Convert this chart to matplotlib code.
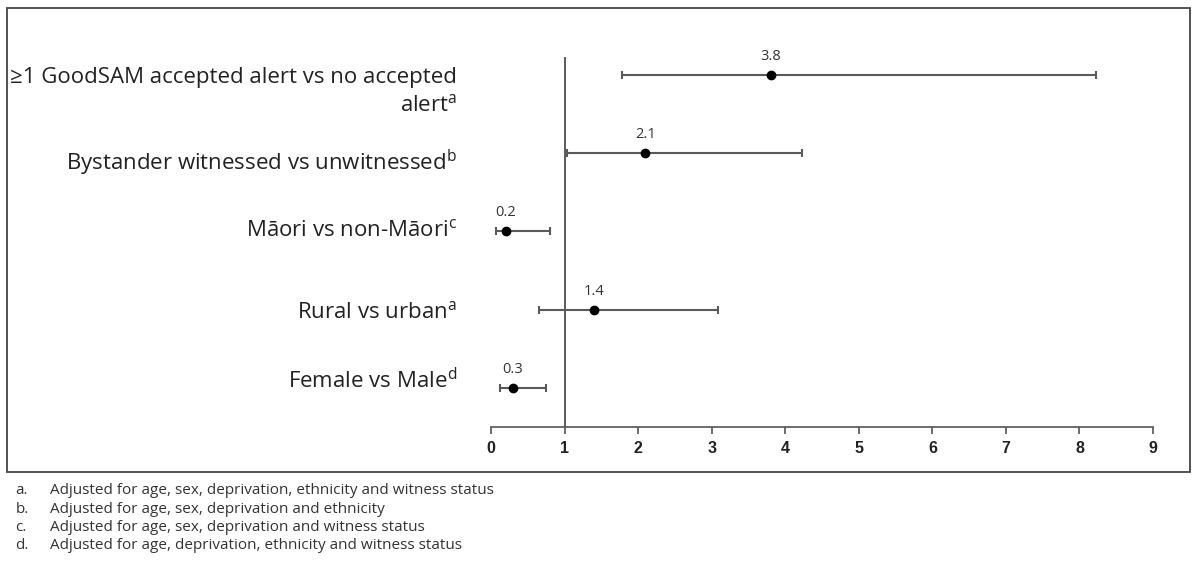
import matplotlib
matplotlib.use("Agg")
import matplotlib.pyplot as plt
from matplotlib.patches import Rectangle

############################################
# DATA
############################################

labels = [
    "≥1 GoodSAM accepted alert vs no accepted\nalert",
    "Bystander witnessed vs unwitnessed",
    "Māori vs non-Māori",
    "Rural vs urban",
    "Female vs Male",
]
notes = ["a", "b", "c", "a", "d"]
odds_ratio = [3.8, 2.1, 0.2, 1.4, 0.3]
ci_low = [1.78, 1.03, 0.07, 0.65, 0.12]
ci_high = [8.23, 4.23, 0.80, 3.08, 0.75]
x_ticks = [0, 1, 2, 3, 4, 5, 6, 7, 8, 9]

footnotes = [
    ("a.", "Adjusted for age, sex, deprivation, ethnicity and witness status"),
    ("b.", "Adjusted for age, sex, deprivation and ethnicity"),
    ("c.", "Adjusted for age, sex, deprivation and witness status"),
    ("d.", "Adjusted for age, deprivation, ethnicity and witness status"),
]

############################################
# PLOT
############################################

plt.rcParams["font.family"] = ["Open Sans", "DejaVu Sans"]
plt.rcParams["mathtext.fontset"] = "custom"
plt.rcParams["mathtext.rm"] = "Open Sans"

fig = plt.figure(figsize=(11.95, 5.62), dpi=100)
ax = fig.add_axes([0.4109, 0.2402, 0.554, 0.6584])

n = len(labels)
ys = list(range(n, 0, -1))

err_lo = [m - l for m, l in zip(odds_ratio, ci_low)]
err_hi = [h - m for m, h in zip(odds_ratio, ci_high)]
ax.errorbar(odds_ratio, ys, xerr=[err_lo, err_hi], fmt="o", color="black",
            ecolor="#5a5a5a", elinewidth=1.5, capsize=3, capthick=1.5,
            markersize=6, zorder=3)

ax.axvline(1, color="#404040", lw=1.2, zorder=1)

for m, y in zip(odds_ratio, ys):
    ax.annotate(f"{m:.1f}", (m, y), xytext=(0, 8), textcoords="offset points",
                ha="center", va="bottom", fontsize=10.5, color="#333333")

# category labels on the left (text boxes in the original sit slightly off the rows)
label_dy = [6, 3.8, 8.8, 6, 14.6]
for lab, note, y, dy in zip(labels, notes, ys, label_dy):
    txt = lab + r"$^{\mathrm{" + note + "}}$"
    ax.annotate(txt, (0, y), xycoords=("axes fraction", "data"),
                xytext=(-24.5, dy), textcoords="offset points",
                ha="right", va="top", fontsize=16, color="#222222",
                linespacing=1.4, annotation_clip=False)

ax.set_xlim(0, 9)
ax.set_ylim(0.5, n + 0.23)
ax.set_xticks(x_ticks)
ax.set_yticks([])
for s in ["top", "right", "left"]:
    ax.spines[s].set_visible(False)
ax.spines["bottom"].set_color("#555555")
ax.spines["bottom"].set_linewidth(1.2)
ax.tick_params(axis="x", direction="out", length=5, width=1.2, color="#555555",
               pad=5)
for t in ax.get_xticklabels():
    t.set_fontfamily(["Liberation Sans Narrow", "Liberation Sans", "DejaVu Sans"])
    t.set_fontweight("bold")
    t.set_fontsize(11.5)
    t.set_color("#222222")

# outer frame
fig.patches.append(Rectangle((0.0059, 0.160), 0.990, 0.826, transform=fig.transFigure,
                             fill=False, edgecolor="#444444", lw=1.3))

# footnotes
for i, (k, note) in enumerate(footnotes):
    y = 1 - (491 + i * 18.3) / 562
    fig.text(0.013, y, k, fontsize=11, color="#333333", va="center")
    fig.text(0.042, y, note, fontsize=11, color="#333333", va="center")

fig.savefig("out.png", dpi=100)
